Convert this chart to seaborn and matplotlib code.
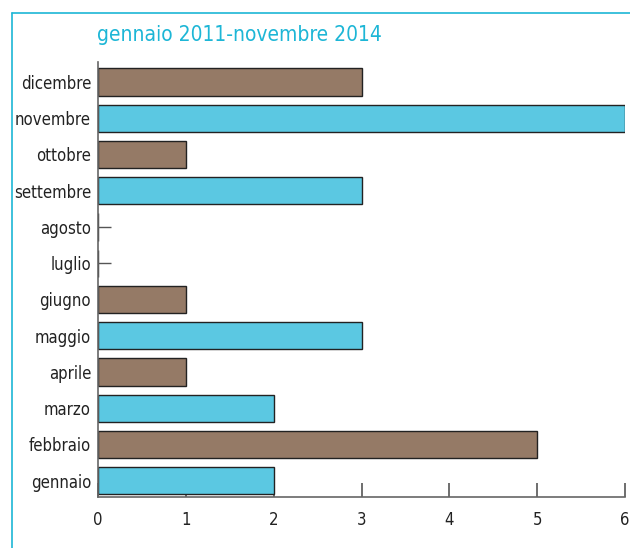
import matplotlib
matplotlib.use("Agg")
import matplotlib.pyplot as plt
import matplotlib.lines as mlines
import seaborn as sns
import pandas as pd

months = ["dicembre", "novembre", "ottobre", "settembre", "agosto", "luglio",
          "giugno", "maggio", "aprile", "marzo", "febbraio", "gennaio"]
values = [3, 6, 1, 3, 0, 0, 1, 3, 1, 2, 5, 2]
bar_colors = ["#957a66", "#5bc8e2", "#957a66", "#5bc8e2", "#957a66", "#5bc8e2",
              "#957a66", "#5bc8e2", "#957a66", "#5bc8e2", "#957a66", "#5bc8e2"]
title = "gennaio 2011-novembre 2014"
xticks = [0, 1, 2, 3, 4, 5, 6]

sns.set_theme(style="white")
plt.rcParams['font.family'] = ['DejaVu Sans']
plt.rcParams['font.stretch'] = 'condensed'

df = pd.DataFrame({"mese": months, "n": values})

fig = plt.figure(figsize=(6.3, 5.48), dpi=100)
ax = fig.add_axes([98/630, 51/548, (625-98)/630, 435/548])

sns.barplot(data=df, y="mese", x="n", hue="mese", palette=dict(zip(months, bar_colors)),
            order=months, hue_order=months, legend=False, width=0.75, saturation=1,
            edgecolor="#222222", linewidth=1.0, ax=ax, orient="h")

# zero-valued months drawn as a short stub
for i, (m, v) in enumerate(zip(months, values)):
    if v == 0:
        ax.plot([v], [i], marker=1, markersize=9, color="#555555", mew=1.0, clip_on=False)

ax.set_xlim(0, 6)
ax.set_ylim(len(months) - 1 + 0.45, -0.55)
ax.set_xticks(xticks)
ax.set_xticklabels([str(t) for t in xticks])
ax.set_xlabel("")
ax.set_ylabel("")
ax.tick_params(axis="x", bottom=True, direction="in", length=10, width=1.2, color="#555555",
               labelsize=12, labelcolor="#222222", pad=10)
ax.tick_params(axis="y", left=False, length=0, labelsize=12, labelcolor="#222222", pad=5)
for s in ["top", "right"]:
    ax.spines[s].set_visible(False)
for s in ["left", "bottom"]:
    ax.spines[s].set_color("#666666")
    ax.spines[s].set_linewidth(1.2)

fig.text(97/630, 1 - 35/548, title, color="#1db6d6", fontsize=15,
         ha="left", va="center")

# frame lines (top and left)
fig.add_artist(mlines.Line2D([12/630, 1], [1 - 13/548, 1 - 13/548],
                             transform=fig.transFigure, color="#1db6d6", lw=1.2))
fig.add_artist(mlines.Line2D([12/630, 12/630], [0, 1 - 13/548],
                             transform=fig.transFigure, color="#1db6d6", lw=1.2))

fig.savefig("out.png", dpi=100)
